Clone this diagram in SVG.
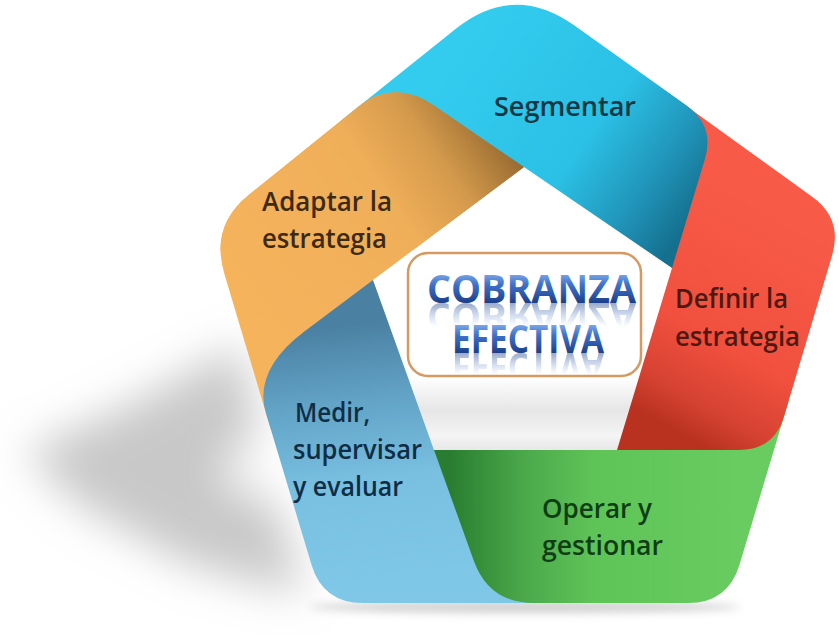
<svg xmlns="http://www.w3.org/2000/svg" xmlns:xlink="http://www.w3.org/1999/xlink" width="839" height="635" viewBox="0 0 839 635">
<defs>
<style>
.lbl{font-family:"Open Sans","Liberation Sans",sans-serif;font-size:27px;font-weight:600;}
.ttl{font-family:"Open Sans","Liberation Sans",sans-serif;font-size:39px;font-weight:700;}
</style>
<linearGradient id="gOrange" gradientUnits="userSpaceOnUse" x1="250" y1="330" x2="510" y2="150">
<stop offset="0" stop-color="#f5b45c"/><stop offset="0.6" stop-color="#efae58"/><stop offset="0.8" stop-color="#d49a4c"/><stop offset="0.95" stop-color="#a87838"/><stop offset="1" stop-color="#9a6c32"/>
</linearGradient>
<linearGradient id="gCyan" gradientUnits="userSpaceOnUse" x1="470" y1="30" x2="705" y2="200">
<stop offset="0" stop-color="#33ccef"/><stop offset="0.55" stop-color="#2bc0e5"/><stop offset="0.8" stop-color="#2196bb"/><stop offset="1" stop-color="#15708f"/>
</linearGradient>
<linearGradient id="gRed" gradientUnits="userSpaceOnUse" x1="820" y1="230" x2="700" y2="445">
<stop offset="0" stop-color="#f75b48"/><stop offset="0.6" stop-color="#f1503e"/><stop offset="0.85" stop-color="#d64232"/><stop offset="1" stop-color="#b8321f"/>
</linearGradient>
<linearGradient id="gGreen" gradientUnits="userSpaceOnUse" x1="740" y1="530" x2="450" y2="530">
<stop offset="0" stop-color="#68cc60"/><stop offset="0.5" stop-color="#5fc458"/><stop offset="0.75" stop-color="#4aa84a"/><stop offset="1" stop-color="#2a7d30"/>
</linearGradient>
<linearGradient id="gBlue" gradientUnits="userSpaceOnUse" x1="320" y1="590" x2="290" y2="330">
<stop offset="0" stop-color="#7fc7e7"/><stop offset="0.4" stop-color="#78bfe0"/><stop offset="0.7" stop-color="#62a3c6"/><stop offset="1" stop-color="#4a80a2"/>
</linearGradient>
<linearGradient id="gInner" gradientUnits="userSpaceOnUse" x1="0" y1="167" x2="0" y2="450">
<stop offset="0" stop-color="#ffffff"/><stop offset="0.74" stop-color="#ffffff"/><stop offset="0.86" stop-color="#e6e6e6"/><stop offset="0.95" stop-color="#f4f4f4"/><stop offset="1" stop-color="#e8e8e8"/>
</linearGradient>
<linearGradient id="gT1" gradientUnits="userSpaceOnUse" x1="0" y1="274" x2="0" y2="304">
<stop offset="0" stop-color="#7aa6e8"/><stop offset="0.35" stop-color="#3f72c8"/><stop offset="0.7" stop-color="#2a56a8"/><stop offset="1" stop-color="#1b3b80"/>
</linearGradient>
<linearGradient id="gT2" gradientUnits="userSpaceOnUse" x1="0" y1="325" x2="0" y2="354">
<stop offset="0" stop-color="#7aa6e8"/><stop offset="0.35" stop-color="#3f72c8"/><stop offset="0.7" stop-color="#2a56a8"/><stop offset="1" stop-color="#1b3b80"/>
</linearGradient>
<linearGradient id="gFade" x1="0" y1="0" x2="0" y2="1">
<stop offset="0" stop-color="#fff" stop-opacity="0.45"/><stop offset="1" stop-color="#fff" stop-opacity="0"/>
</linearGradient>
<mask id="mRef1" maskUnits="userSpaceOnUse" x="400" y="300" width="260" height="32">
<rect x="400" y="303" width="260" height="24" fill="url(#gFade)"/>
</mask>
<mask id="mRef2" maskUnits="userSpaceOnUse" x="400" y="350" width="260" height="30">
<rect x="400" y="353" width="260" height="22" fill="url(#gFade)"/>
</mask>
<filter id="fBlur" x="-50%" y="-50%" width="200%" height="200%"><feGaussianBlur stdDeviation="22"/></filter>
<filter id="fBlurS" x="-20%" y="-200%" width="140%" height="500%"><feGaussianBlur stdDeviation="4"/></filter>
<clipPath id="cTop"><rect x="0" y="0" width="839" height="250"/></clipPath>
</defs>

<rect x="0" y="0" width="839" height="635" fill="#ffffff"/>

<g id="shadow">
<g filter="url(#fBlur)">
<polygon points="25,452 130,405 240,345 265,470 305,595 190,565 80,505" fill="#9a9a9a" opacity="0.55"/>
<ellipse cx="255" cy="470" rx="25" ry="22" fill="#ffffff"/>
</g>
<ellipse cx="525" cy="607" rx="215" ry="6" fill="#999" opacity="0.45" filter="url(#fBlurS)"/>
</g>

<polygon id="inner" points="524,167 672,268 617,450 434,450 373,280" fill="url(#gInner)"/>

<g id="node-adaptar-back">
<path id="pOrange" d="M271 430 L224.4 273.9 Q210 226 249 194.7 L358.9 106.2 Q394 78 435.3 106.3 L524 167 L373 280 L330 400 Z" fill="url(#gOrange)"/>
</g>

<g id="node-medir">
<path d="M434 450 L520 470 L560 603 L363 603 Q323 603 311.5 564.7 L265.9 413.1 Q253 370 305 331 L373 280 Z" fill="url(#gBlue)"/>
<text class="lbl" fill="#0f2e45" x="295" y="422" textLength="75" lengthAdjust="spacingAndGlyphs">Medir,</text>
<text class="lbl" fill="#0f2e45" x="293" y="459" textLength="129" lengthAdjust="spacingAndGlyphs">supervisar</text>
<text class="lbl" fill="#0f2e45" x="293" y="496" textLength="110" lengthAdjust="spacingAndGlyphs">y evaluar</text>
</g>

<g id="node-operar">
<path d="M434 450 L617 450 L700 400 L789 400 L739.5 564.7 Q728 603 688 603 L534 603 Q489 603 473.8 560.7 Z" fill="url(#gGreen)"/>
<text class="lbl" fill="#0f3d14" x="542" y="518" textLength="110" lengthAdjust="spacingAndGlyphs">Operar y</text>
<text class="lbl" fill="#0f3d14" x="542" y="555" textLength="121" lengthAdjust="spacingAndGlyphs">gestionar</text>
</g>

<g id="node-definir">
<path d="M672 268 L640 170 L660 87 L812.2 196.8 Q843 219 832.1 255.4 L784 416.5 Q774 450 739 450 L617 450 Z" fill="url(#gRed)"/>
<text class="lbl" fill="#4d1a12" x="675" y="308" textLength="113" lengthAdjust="spacingAndGlyphs">Definir la</text>
<text class="lbl" fill="#4d1a12" x="675" y="346" textLength="125" lengthAdjust="spacingAndGlyphs">estrategia</text>
</g>

<g id="node-segmentar">
<path d="M524 167 L672 268 L704.8 159.5 Q715 126 686.6 105.6 L574.8 25.8 Q514 -18 455.5 29 L340 121.4 L440 160 Z" fill="url(#gCyan)"/>
<text class="lbl" fill="#123845" x="494" y="116" textLength="142" lengthAdjust="spacingAndGlyphs">Segmentar</text>
</g>

<g id="node-adaptar">
<use xlink:href="#pOrange" href="#pOrange" clip-path="url(#cTop)"/>
<text class="lbl" fill="#3d2a10" x="262" y="211" textLength="130" lengthAdjust="spacingAndGlyphs">Adaptar la</text>
<text class="lbl" fill="#3d2a10" x="262" y="248" textLength="125" lengthAdjust="spacingAndGlyphs">estrategia</text>
</g>

<g id="node-center">
<rect x="408" y="253" width="233" height="123" rx="20" ry="20" fill="#ffffff" stroke="#d69a60" stroke-width="2.5"/>
<text id="tCobranza" class="ttl" fill="url(#gT1)" x="427" y="303" textLength="209" lengthAdjust="spacingAndGlyphs">COBRANZA</text>
<g mask="url(#mRef1)"><use xlink:href="#tCobranza" href="#tCobranza" transform="matrix(1,0,0,-1,0,606)"/></g>
<text id="tEfectiva" class="ttl" fill="url(#gT2)" x="452" y="353" textLength="152" lengthAdjust="spacingAndGlyphs">EFECTIVA</text>
<g mask="url(#mRef2)"><use xlink:href="#tEfectiva" href="#tEfectiva" transform="matrix(1,0,0,-1,0,706)"/></g>
</g>

<g id="connectors"></g>
</svg>
